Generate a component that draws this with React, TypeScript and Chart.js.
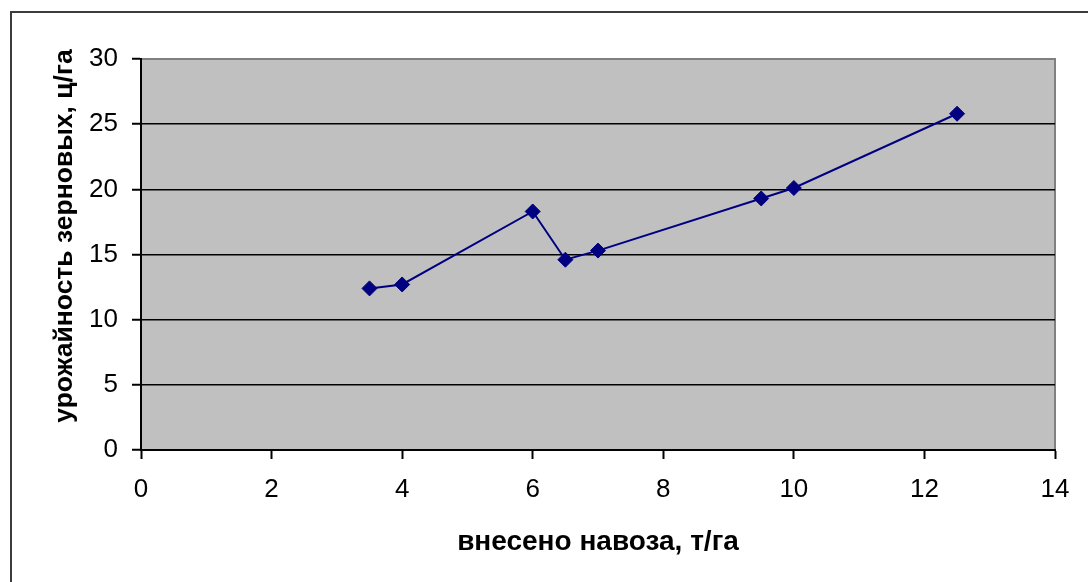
import React, { useEffect, useRef } from "react";
import { Chart, registerables } from "chart.js";

Chart.register(...registerables);

const manureX: number[] = [3.5, 4, 6, 6.5, 7, 9.5, 10, 12.5];
const yieldY: number[] = [12.4, 12.7, 18.3, 14.6, 15.3, 19.3, 20.1, 25.8];
const xTitle = "внесено навоза, т/га";
const yTitle = "урожайность зерновых, ц/га";
const xMin = 0, xMax = 14, xStep = 2;
const yMin = 0, yMax = 30, yStep = 5;

const FONT = "'Liberation Sans', Arial, sans-serif";

export default function App() {
  const ref = useRef<HTMLCanvasElement | null>(null);

  useEffect(() => {
    const canvas = ref.current;
    if (!canvas) return;

    const framePlugin = {
      id: "frameAndBg",
      beforeDraw(chart: any) {
        const { ctx, chartArea } = chart;
        ctx.save();
        ctx.fillStyle = "#ffffff";
        ctx.fillRect(0, 0, chart.width, chart.height);
        ctx.strokeStyle = "#3c3c3c";
        ctx.lineWidth = 2;
        ctx.strokeRect(11, 12, 1200, 700);
        ctx.fillStyle = "#c0c0c0";
        ctx.fillRect(chartArea.left, chartArea.top, chartArea.right - chartArea.left, chartArea.bottom - chartArea.top);
        ctx.strokeStyle = "#808080";
        ctx.lineWidth = 2;
        ctx.strokeRect(chartArea.left, chartArea.top, chartArea.right - chartArea.left, chartArea.bottom - chartArea.top);
        ctx.restore();
      },
      afterDraw(chart: any) {
        const { ctx } = chart;
        ctx.save();
        ctx.translate(65, 236);
        ctx.rotate(-Math.PI / 2);
        ctx.font = `bold 26.5px ${FONT}`;
        ctx.fillStyle = "#000000";
        ctx.textAlign = "center";
        ctx.textBaseline = "middle";
        ctx.fillText(yTitle, 0, 0);
        ctx.restore();
      },
    };

    const chart = new Chart(canvas, {
      type: "line",
      data: {
        datasets: [
          {
            data: manureX.map((x, i) => ({ x, y: yieldY[i] })),
            borderColor: "#000080",
            backgroundColor: "#000080",
            borderWidth: 2,
            pointStyle: "rectRot",
            pointRadius: 7.5,
            pointBorderWidth: 1,
            pointBackgroundColor: "#000080",
            pointBorderColor: "#000080",
            tension: 0,
          },
        ],
      },
      options: {
        responsive: false,
        animation: false,
        devicePixelRatio: 1,
        layout: { padding: { left: 0, top: 59, right: 33, bottom: 0 } },
        plugins: {
          legend: { display: false },
          tooltip: { enabled: false },
          title: { display: false },
        },
        scales: {
          x: {
            type: "linear",
            min: xMin,
            max: xMax,
            afterFit(scale: any) {
              scale.height = 132;
            },
            ticks: {
              stepSize: xStep,
              padding: 15,
              color: "#000000",
              font: { family: FONT, size: 26 },
              maxRotation: 0,
            },
            grid: {
              drawOnChartArea: false,
              drawTicks: true,
              tickLength: 9,
              tickColor: "#000000",
              tickWidth: 2,
            },
            border: { display: true, color: "#000000", width: 2 },
            title: {
              display: true,
              text: xTitle,
              color: "#000000",
              font: { family: FONT, size: 28, weight: "bold" },
              padding: { top: 0, bottom: 23 },
            },
          },
          y: {
            type: "linear",
            min: yMin,
            max: yMax,
            afterFit(scale: any) {
              scale.width = 141;
            },
            ticks: {
              stepSize: yStep,
              padding: 14,
              color: "#000000",
              font: { family: FONT, size: 26 },
            },
            grid: {
              color: (c: any) => (c.tick && c.tick.value === yMax ? "rgba(0,0,0,0)" : "#000000"),
              lineWidth: 1.5,
              drawTicks: true,
              tickLength: 9,
              tickColor: "#000000",
              tickWidth: 2,
            },
            border: { display: true, color: "#000000", width: 2 },
          },
        },
      },
      plugins: [framePlugin],
    });

    return () => chart.destroy();
  }, []);

  return (
    <div style={{ position: "absolute", left: 0, top: 0, width: 1088, height: 582 }}>
      <canvas ref={ref} width={1088} height={582} style={{ display: "block" }} />
    </div>
  );
}
